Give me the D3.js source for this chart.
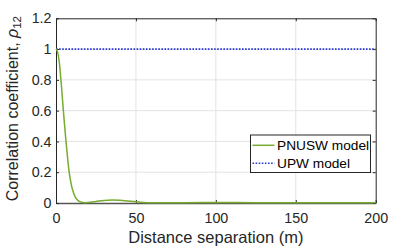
<!DOCTYPE html>
<html><head><meta charset="utf-8">
<script src="https://cdn.jsdelivr.net/npm/d3@7"></script>
<style>body{margin:0;background:#fff}svg{display:block;font-family:"Liberation Sans",Arial,sans-serif}</style>
</head><body><svg id="c" width="415" height="249"></svg>
<script>
const pnuswDist = [0,1,2,3,4,5,6,7,8,9,10,11,12,13,14,16,18,20,25,30,35,40,45,50,55,60,70,80,100,125,150,175,200];
const pnuswRho  = [1,0.98,0.92,0.81,0.68,0.55,0.43,0.32,0.22,0.15,0.10,0.065,0.04,0.024,0.014,0.005,0.002,0.003,0.01,0.017,0.02,0.018,0.013,0.008,0.004,0.002,0.001,0.002,0.003,0.002,0.002,0.002,0.002];
const upwDist = [0,200];
const upwRho = [1,1];
const xTicks = [0,50,100,150,200];
const yTicks = [0,0.2,0.4,0.6,0.8,1,1.2];
const legendLabels = ["PNUSW model","UPW model"];

const svg = d3.select("#c");
const L=56,R=375.7,T=18.3,B=203;
const x = d3.scaleLinear().domain([0,200]).range([L,R]);
const y = d3.scaleLinear().domain([0,1.2]).range([B,T]);

// grid
svg.append("g").selectAll("line").data(xTicks.slice(1,-1)).join("line")
  .attr("x1",d=>x(d)).attr("x2",d=>x(d)).attr("y1",T).attr("y2",B)
  .attr("stroke","#e3e3e3").attr("stroke-width",1);
svg.append("g").selectAll("line").data(yTicks.slice(1,-1)).join("line")
  .attr("y1",d=>y(d)).attr("y2",d=>y(d)).attr("x1",L).attr("x2",R)
  .attr("stroke","#e3e3e3").attr("stroke-width",1);

// axes
const fs = "14.3px";
const xa = svg.append("g").attr("transform",`translate(0,${B})`)
  .call(d3.axisBottom(x).tickValues(xTicks).tickSizeInner(-3).tickSizeOuter(0).tickPadding(10).tickFormat(d3.format("d")));
const xt = svg.append("g").attr("transform",`translate(0,${T})`)
  .call(d3.axisTop(x).tickValues(xTicks).tickSizeInner(-3).tickSizeOuter(0).tickFormat(""));
const ya = svg.append("g").attr("transform",`translate(${L},0)`)
  .call(d3.axisLeft(y).tickValues(yTicks).tickSizeInner(-3).tickSizeOuter(0).tickPadding(4.5).tickFormat(d=>d===0||d===1?String(d):d3.format(".1f")(d)));
const yr = svg.append("g").attr("transform",`translate(${R},0)`)
  .call(d3.axisRight(y).tickValues(yTicks).tickSizeInner(-3).tickSizeOuter(0).tickFormat(""));
[xa,xt,ya,yr].forEach(g=>{
  g.select(".domain").attr("stroke","#262626").attr("stroke-width",1);
  g.selectAll(".tick line").attr("stroke","#262626");
  g.selectAll("text").attr("fill","#262626").style("font-size",fs).style("font-family","'Liberation Sans',Arial,sans-serif");
});
xa.select(".domain").attr("stroke","#555").attr("stroke-width",1.5);

// lines
const line = d3.line().x((d,i)=>x(d[0])).y(d=>y(d[1])).curve(d3.curveMonotoneX);
svg.append("path").datum(upwDist.map((d,i)=>[d,upwRho[i]]))
  .attr("d",line).attr("fill","none").attr("stroke","#2a3ad8").attr("stroke-width",1.6).attr("stroke-dasharray","1.6,1.5");
svg.append("path").datum(pnuswDist.map((d,i)=>[d,pnuswRho[i]]))
  .attr("d",line).attr("fill","none").attr("stroke","#77AC30").attr("stroke-width",1.5);

// labels
svg.append("text").attr("x",(L+R)/2).attr("y",243).attr("text-anchor","middle")
  .style("font-size","16.5px").attr("fill","#262626").text("Distance separation (m)");
const yl = svg.append("text").attr("transform",`translate(17.5,${(T+B)/2 - 2}) rotate(-90)`).attr("text-anchor","middle")
  .style("font-size","16px").attr("fill","#262626");
yl.append("tspan").text("Correlation coefficient, ");
yl.append("tspan").style("font-style","italic").text("ρ");
yl.append("tspan").attr("dy",3.5).style("font-size","11.5px").text("12");

// legend
const lg = svg.append("g");
lg.append("rect").attr("x",250.5).attr("y",135).attr("width",120).attr("height",37.5)
  .attr("fill","#fff").attr("stroke","#262626").attr("stroke-width",1);
const colors=["#77AC30","#2a3ad8"];
const dashes=[null,"1.6,1.5"];
legendLabels.forEach((lab,i)=>{
  const yy = 145.3 + i*18;
  lg.append("line").attr("x1",252.5).attr("x2",274.5).attr("y1",yy).attr("y2",yy)
    .attr("stroke",colors[i]).attr("stroke-width",1.5).attr("stroke-dasharray",dashes[i]);
  lg.append("text").attr("x",277).attr("y",yy+5).style("font-size","13.7px").attr("fill","#000").text(lab);
});
</script></body></html>
